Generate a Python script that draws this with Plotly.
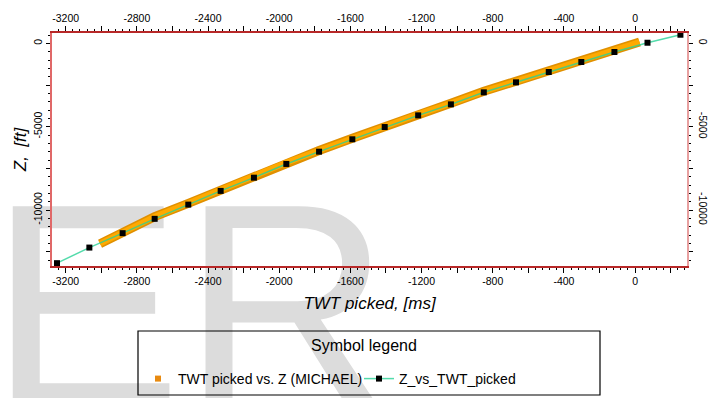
import plotly.graph_objects as go

# Z_vs_TWT_picked (green line with black markers)
twt_line = [-3249, -3067, -2880, -2700, -2511, -2329, -2142, -1960, -1776, -1589,
            -1407, -1219, -1035, -850, -669, -485, -302, -116, 70, 255]
z_line = [-13190, -12254, -11390, -10530, -9676, -8854, -8060, -7237, -6500, -5757,
          -5022, -4321, -3661, -2940, -2340, -1720, -1120, -521, 36, 516]

# TWT picked vs. Z (MICHAEL) (dense orange picks, shown as a band)
twt_picks = [-3007, -2880, -2700, -2511, -2329, -2142, -1960, -1776, -1589, -1407,
             -1219, -1035, -850, -669, -485, -302, -116, 25]
z_picks = [-12020, -11330, -10400, -9600, -8780, -7960, -7160, -6430, -5690, -4960,
           -4260, -3600, -2880, -2280, -1660, -1060, -460, 80]

x_ticks = list(range(-3200, 201, 200))
x_text = [str(v) if v % 400 == 0 else "" for v in x_ticks]
y_ticks = [-12500, -10000, -7500, -5000, -2500, 0]
y_text = ["", "-10000", "", "-5000", "", "0"]

XR = [-3277, 292]
YR = [-13360, 620]

FONT = "Liberation Sans, Arial, sans-serif"

# plot area in pixels: x 52..687, y 33..266
def px(x):
    return (x - 52) / 635.0

def py(y):
    return (266 - y) / 233.0

fig = go.Figure()
fig.add_trace(go.Scatter(x=twt_picks, y=z_picks, mode="lines",
                         line=dict(color="#E09000", width=9), showlegend=False, hoverinfo="skip"))
fig.add_trace(go.Scatter(x=twt_picks, y=z_picks, mode="lines",
                         line=dict(color="#FFA900", width=6), showlegend=False, hoverinfo="skip"))
fig.add_trace(go.Scatter(x=[None], y=[None], mode="markers", name="TWT picked vs. Z (MICHAEL)",
                         marker=dict(symbol="square", size=6, color="#E88A10")))
fig.add_trace(go.Scatter(x=twt_line, y=z_line, mode="lines+markers", name="Z_vs_TWT_picked",
                         line=dict(color="rgba(40,210,150,0.8)", width=1.5),
                         marker=dict(symbol="square", size=6, color="black")))
fig.add_trace(go.Scatter(x=[None], y=[None], xaxis="x2", yaxis="y2", showlegend=False))

tickfont = dict(family=FONT, size=10.5, color="black")
common_x = dict(range=XR, tickmode="array", tickvals=x_ticks, ticktext=x_text,
                ticks="outside", ticklen=5, tickcolor="black", tickwidth=1,
                minor=dict(dtick=40, ticks="outside", ticklen=2.5, tickcolor="black"),
                showline=True, linecolor="#B82828", linewidth=1.5, showgrid=False,
                zeroline=False, tickfont=tickfont, automargin=False)
common_y = dict(range=YR, tickmode="array", tickvals=y_ticks, ticktext=y_text,
                ticks="outside", ticklen=4, tickcolor="black", tickwidth=1,
                minor=dict(dtick=500, ticks="outside", ticklen=2.5, tickcolor="black"),
                showline=True, linewidth=1.5, showgrid=False,
                zeroline=False, tickfont=tickfont, automargin=False)

fig.update_layout(
    width=709, height=398,
    margin=dict(l=52, r=22, t=33, b=132, autoexpand=False),
    paper_bgcolor="white", plot_bgcolor="rgba(0,0,0,0)",
    xaxis=dict(**common_x, side="bottom",
               title=dict(text="<i>TWT picked, [ms]</i>", font=dict(family=FONT, size=17, color="black"),
                          standoff=11)),
    xaxis2=dict(**common_x, side="top", overlaying="x", anchor="y"),
    yaxis=dict(**common_y, side="left", tickangle=-90, linecolor="#E06868",
               title=dict(text="<i>Z,  [ft]</i>", font=dict(family=FONT, size=17, color="black"),
                          standoff=1)),
    yaxis2=dict(**common_y, side="right", overlaying="y", anchor="x", tickangle=90,
                linecolor="#E8A0A0", ticklabelstandoff=2),
    showlegend=True,
    legend=dict(orientation="h", x=px(138), xanchor="left", y=py(363), yanchor="top",
                borderwidth=0, bgcolor="rgba(0,0,0,0)",
                font=dict(family=FONT, size=14, color="black"),
                entrywidth=176, entrywidthmode="pixels"),
    annotations=[dict(text="Symbol legend", xref="paper", yref="paper", x=px(364), y=py(345),
                      xanchor="center", yanchor="middle", showarrow=False,
                      font=dict(family=FONT, size=16, color="black"))],
    shapes=[
        dict(type="rect", xref="paper", yref="paper", x0=0.20, x1=0.234, y0=-0.06, y1=-0.04,
             layer="below", line=dict(width=0), fillcolor="rgba(0,0,0,0)",
             label=dict(text="ER", textposition="middle center",
                        font=dict(family="Liberation Sans, Arial", size=289, color="#DCDCDC"))),
        dict(type="rect", xref="paper", yref="paper", x0=px(138), x1=px(600), y0=py(395), y1=py(331),
             layer="above", line=dict(color="black", width=1.2), fillcolor="rgba(0,0,0,0)"),
    ],
)

fig.write_html("out.html")
